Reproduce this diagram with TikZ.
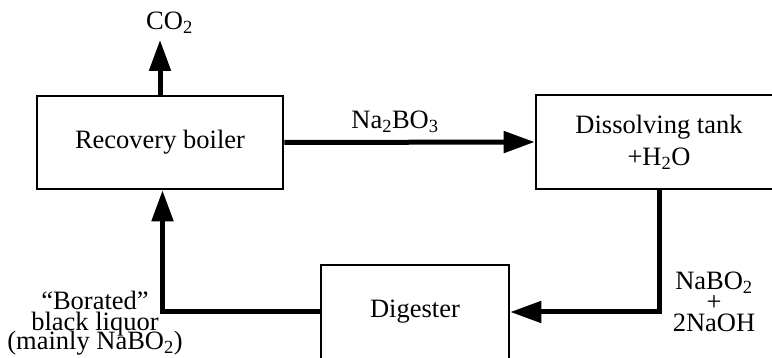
\documentclass[tikz,border=0pt]{standalone}
\usepackage{fontspec}
\setmainfont{Liberation Serif}
\usetikzlibrary{arrows.meta}
% allow lines closer than their natural heights
\newcommand{\tightlines}{\lineskiplimit=-30pt\relax\lineskip=0pt\relax}
\begin{document}
\begin{tikzpicture}[x=1pt,y=-1pt,
  every node/.style={font=\fontsize{26.5}{30}\selectfont, inner sep=0pt},
  unit/.style={draw, line width=2.6pt, minimum width=246pt, minimum height=93pt, align=center},
  flow/.style={line width=5pt, -{Triangle[length=31pt,width=21pt]}},
  chem/.style={align=center, font=\fontsize{26.5}{21}\selectfont\tightlines},
]
\useasboundingbox (0,0) rectangle (772,358);
\clip (0,0) rectangle (772,358);

% process units
\node[unit] (rb) at (160,142.5) {Recovery boiler};
\node[unit, minimum height=94pt, font=\fontsize{26.5}{32}\selectfont] (dt) at (659,142)
  {Dissolving tank\\+H\textsubscript{2}O};
\node[unit, minimum width=188pt, minimum height=94pt] (dg) at (415,312) {Digester};

% stream labels (multi-line labels sit on the baseline of their last line)
\node[anchor=base] (co2) at (169.5,30) {CO\textsubscript{2}};
\node[anchor=base] (smelt) at (395,129) {Na\textsubscript{2}BO\textsubscript{3}};
\node[chem, font=\fontsize{26.5}{20}\selectfont\tightlines, anchor=base] (liquor) at (95,350)
  {``Borated''\\black liquor\\(mainly NaBO\textsubscript{2})};
\node[chem, anchor=base] (white) at (714,332) {NaBO\textsubscript{2}\\+\\2NaOH};

% streams
\draw[flow, shorten >=6pt] (rb.north) -- (rb.north |- co2.south);
\draw[flow] (rb.east) -- (dt.west);
\draw[flow] (dt.south) |- (dg.east);
\draw[flow] (dg.west) -| ([xshift=2.5pt]rb.south);
\end{tikzpicture}
\end{document}
